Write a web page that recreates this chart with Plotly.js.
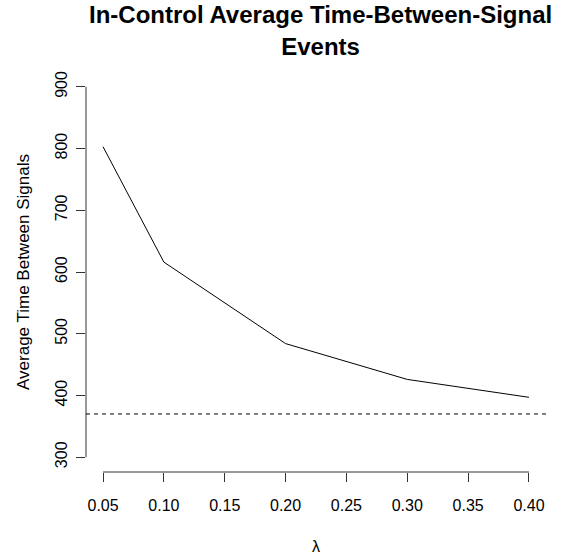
<!DOCTYPE html>
<html>
<head>
<meta charset="utf-8">
<script src="https://cdn.plot.ly/plotly-3.0.1.min.js"></script>
<style>html,body{margin:0;padding:0;background:#fff;}#chart{width:568px;height:556px;}</style>
</head>
<body>
<div id="chart"></div>
<script>
// Data
const lambdaValues = [0.05, 0.10, 0.20, 0.30, 0.40];
const atsValues = [803, 616, 484, 426, 397];
const referenceATS = 370;
const xTickVals = [0.05, 0.10, 0.15, 0.20, 0.25, 0.30, 0.35, 0.40];
const xTickText = ["0.05", "0.10", "0.15", "0.20", "0.25", "0.30", "0.35", "0.40"];
const yTickVals = [300, 400, 500, 600, 700, 800, 900];
const yTickText = ["300", "400", "500", "600", "700", "800", "900"];

const FONT = '"Liberation Sans", Arial, Helvetica, sans-serif';
const AXIS_COLOR = '#333';

// R-style 4% padding of the axis ranges
function padRange(lo, hi) { const d = (hi - lo) * 0.04; return [lo - d, hi + d]; }
const xRange = padRange(xTickVals[0], xTickVals[xTickVals.length - 1]);
const yRange = padRange(yTickVals[0], yTickVals[yTickVals.length - 1]);

const traces = [{
  x: lambdaValues,
  y: atsValues,
  type: 'scatter',
  mode: 'lines',
  line: {color: '#000', width: 1},
  hoverinfo: 'skip',
  showlegend: false
}];

const layout = {
  width: 568,
  height: 556,
  margin: {l: 86, r: 22, t: 72, b: 84},
  paper_bgcolor: '#fff',
  plot_bgcolor: '#fff',
  font: {family: FONT, size: 16, color: '#000'},
  showlegend: false,
  title: {
    text: '<b>In-Control Average Time-Between-Signal<br>Events</b>',
    font: {family: FONT, size: 24, color: '#000'},
    x: 0.51, xref: 'paper', xanchor: 'center',
    y: 0.958, yref: 'container', yanchor: 'middle'
  },
  xaxis: {
    range: xRange,
    tickmode: 'array', tickvals: xTickVals, ticktext: xTickText,
    ticks: 'outside', ticklen: 9, tickwidth: 1, tickcolor: AXIS_COLOR,
    ticklabelstandoff: 10,
    showline: false, showgrid: false, zeroline: false,
    tickfont: {family: FONT, size: 16, color: '#000'},
    title: {text: 'λ', font: {family: FONT, size: 16, color: '#000'}, standoff: 27}
  },
  yaxis: {
    range: yRange,
    tickmode: 'array', tickvals: yTickVals, ticktext: yTickText,
    tickangle: -90,
    ticks: 'outside', ticklen: 9, tickwidth: 1, tickcolor: AXIS_COLOR,
    ticklabelstandoff: 3,
    showline: false, showgrid: false, zeroline: false,
    tickfont: {family: FONT, size: 16, color: '#000'},
    title: {text: 'Average Time Between Signals', font: {family: FONT, size: 17, color: '#000'}, standoff: 18}
  },
  shapes: [
    {type: 'line', xref: 'paper', x0: 0, x1: 0, yref: 'y', y0: yTickVals[0], y1: yTickVals[yTickVals.length - 1],
     line: {color: AXIS_COLOR, width: 1}},
    {type: 'line', yref: 'paper', y0: 0, y1: 0, xref: 'x', x0: xTickVals[0], x1: xTickVals[xTickVals.length - 1],
     line: {color: AXIS_COLOR, width: 1}},
    {type: 'line', xref: 'paper', x0: 0, x1: 1, yref: 'y', y0: referenceATS, y1: referenceATS,
     line: {color: '#000', width: 1, dash: '4px,4px'}}
  ]
};

Plotly.newPlot('chart', traces, layout, {displayModeBar: false, staticPlot: true});
</script>
</body>
</html>
